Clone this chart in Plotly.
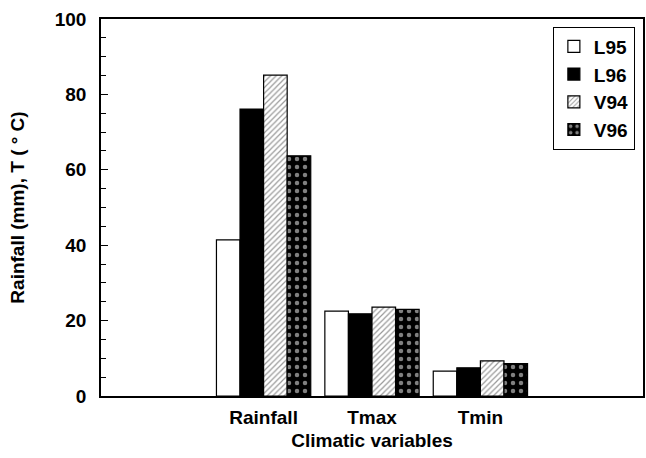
import plotly.graph_objects as go

categories = ["Rainfall", "Tmax", "Tmin"]
series_names = ["L95", "L96", "V94", "V96"]
L95 = [41.4, 22.5, 6.6]
L96 = [76.1, 21.8, 7.5]
V94 = [85.1, 23.6, 9.3]
V96 = [63.7, 23.0, 8.6]
y_ticks = [0, 20, 40, 60, 80, 100]

FONT = "Liberation Sans, Arial, Helvetica, sans-serif"
positions = [i + 1 for i in range(len(categories))]

styles = {
    "L95": dict(color="white", pattern=dict(shape="")),
    "L96": dict(color="black", pattern=dict(shape="")),
    "V94": dict(color="white", pattern=dict(shape="/", fgcolor="#333333", bgcolor="white",
                                           size=4, solidity=0.3)),
    "V96": dict(color="black", pattern=dict(shape=".", fgcolor="white", bgcolor="black",
                                           size=8, solidity=0.25)),
}

fig = go.Figure()
for name, vals in zip(series_names, [L95, L96, V94, V96]):
    st = styles[name]
    fig.add_trace(go.Bar(
        x=positions, y=vals, name=name,
        marker=dict(color=st["color"], pattern=st["pattern"],
                    line=dict(color="black", width=1.2)),
    ))

fig.update_layout(
    width=646, height=458,
    margin=dict(l=101, r=1, t=19, b=62),
    paper_bgcolor="white", plot_bgcolor="white",
    barmode="group", bargap=0.13, bargroupgap=0,
    font=dict(family=FONT, color="black", size=18, weight=700),
    showlegend=True,
    legend=dict(x=0.985, y=0.98, xanchor="right", yanchor="top",
                bordercolor="black", borderwidth=1, bgcolor="white",
                font=dict(size=19, family=FONT, weight=700),
                itemwidth=30, tracegroupgap=0),
)
fig.update_xaxes(
    range=[-0.5, 4.5], tickmode="array", tickvals=positions, ticktext=categories,
    showline=True, linecolor="black", linewidth=1.5, mirror=True,
    ticks="", showgrid=False, zeroline=False, ticklabelstandoff=3,
    tickfont=dict(size=19, family=FONT, weight=700),
    title=dict(text="Climatic variables", font=dict(size=19, family=FONT, weight=700),
               standoff=7),
)
fig.update_yaxes(
    range=[0, 100], tickmode="array", tickvals=y_ticks,
    showline=True, linecolor="black", linewidth=1.5, mirror=True,
    ticks="inside", ticklen=7, tickcolor="black", tickwidth=1,
    minor=dict(ticks="inside", ticklen=5, dtick=5, tickcolor="black", tickwidth=1),
    showgrid=False, zeroline=False, ticklabelstandoff=9,
    tickfont=dict(size=19, family=FONT, weight=700),
    title=dict(text="Rainfall (mm), T ( ° C)", font=dict(size=19, family=FONT, weight=700),
               standoff=25),
)

fig.write_html("out.html")
